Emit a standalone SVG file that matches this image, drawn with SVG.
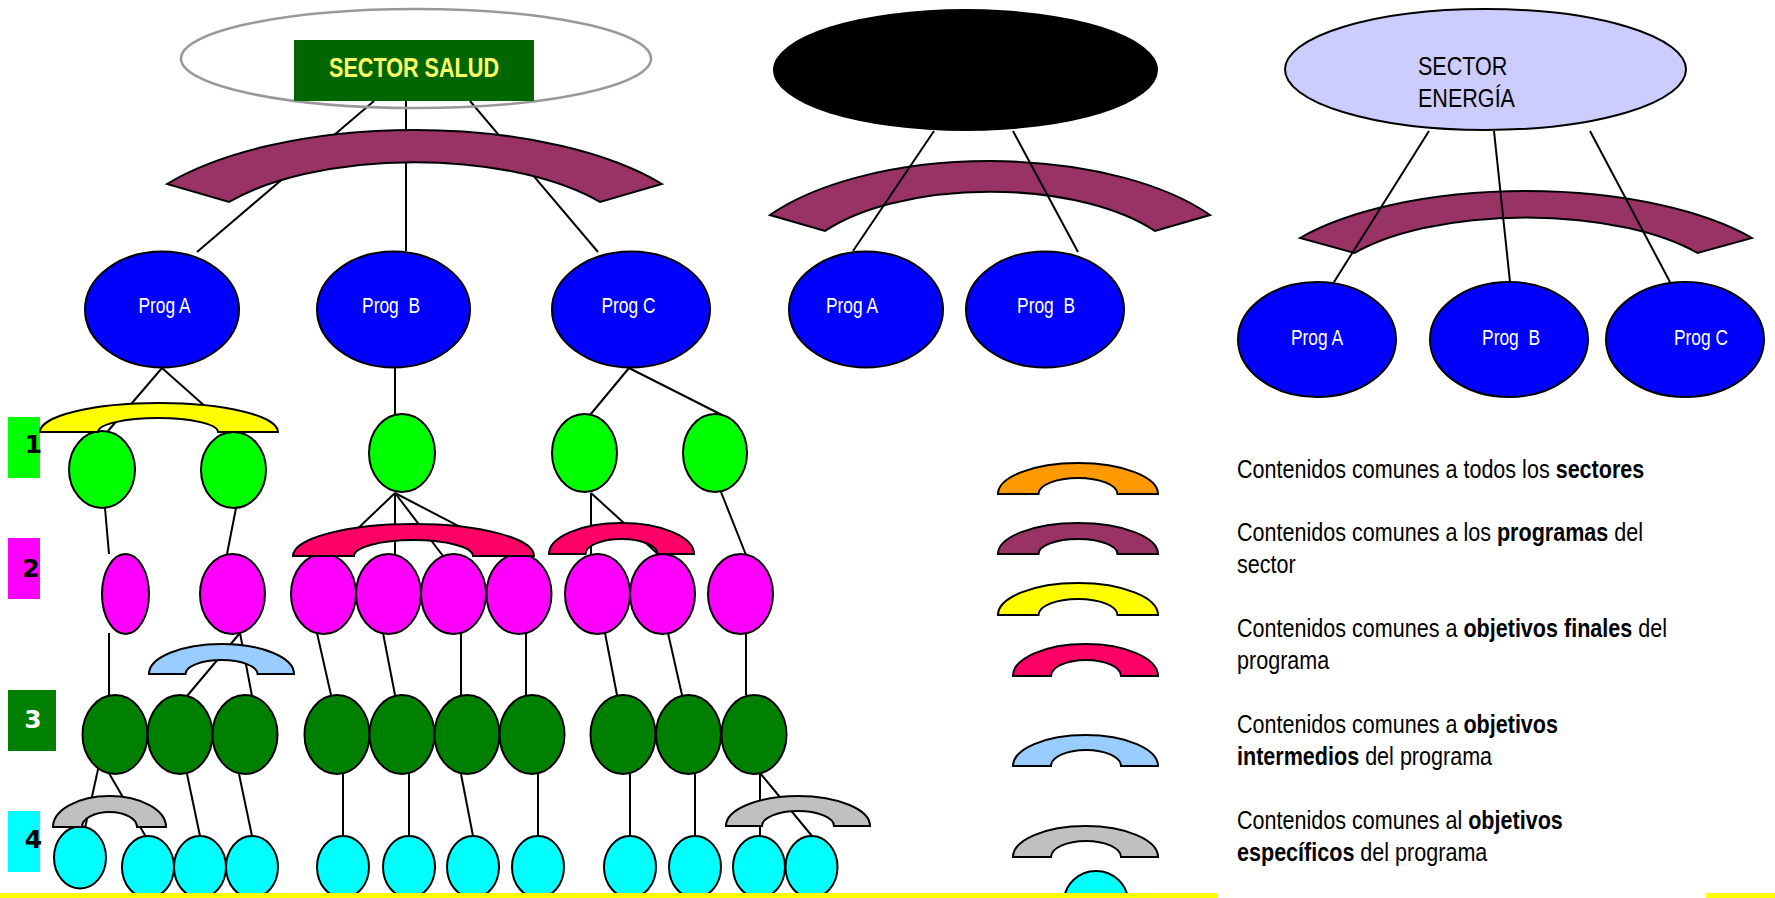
<svg xmlns="http://www.w3.org/2000/svg" width="1775" height="898" viewBox="0 0 1775 898">
<style>
  .ln{stroke:#000;stroke-width:2;fill:none}
  .nd{stroke:#000;stroke-width:2}
  .prog{fill:#0000FF}
  .g1{fill:#00FF00}
  .g2{fill:#FF00FF}
  .g3{fill:#008000}
  .g4{fill:#00FFFF}
  .arc{stroke:#000;stroke-width:2;stroke-linejoin:miter}
  .maroon{fill:#993366}
  .yellow{fill:#FFFF00}
  .red{fill:#FF0066}
  .blue{fill:#99CCFF}
  .gray{fill:#C0C0C0}
  .orange{fill:#FF9900}
  .txt{font-family:"Liberation Sans",Arial,sans-serif}
  .plabel{font-size:22px;fill:#fff;text-anchor:middle}
  .legend{font-size:26.3px;fill:#000}
  .digit{font-family:"DejaVu Sans",Verdana,sans-serif;font-weight:bold;font-size:25px;text-anchor:middle}
</style>
<rect width="1775" height="898" fill="#fff"/>

<!-- sector arcs that sit behind their connectors -->
<g id="arcs-back">
  <path id="arc-sector2" class="arc maroon" d="M770,215 A262,118 0 0 1 1210,215 L1155,231 A198,88 0 0 0 825,231 Z"/>
  <path id="arc-energia" class="arc maroon" d="M1300,238 A275,109 0 0 1 1752,238 L1697.5,253 A208,82 0 0 0 1354.5,253 Z"/>
</g>

<!-- connectors -->
<g id="connectors" class="ln">
  <!-- sector salud -->
  <line x1="374" y1="101" x2="197" y2="252"/>
  <line x1="406" y1="101" x2="406" y2="251"/>
  <line x1="470" y1="101" x2="598" y2="252"/>
  <!-- second sector -->
  <line x1="934" y1="131" x2="853" y2="251"/>
  <line x1="1013" y1="131" x2="1078" y2="252"/>
  <!-- sector energia -->
  <line x1="1429" y1="131" x2="1334" y2="282"/>
  <line x1="1494" y1="131" x2="1510" y2="282"/>
  <line x1="1590" y1="131" x2="1670" y2="282"/>
  <!-- programs to level 1 -->
  <line x1="162" y1="368" x2="108" y2="431"/>
  <line x1="162" y1="368" x2="234" y2="432"/>
  <line x1="395" y1="368" x2="395" y2="414"/>
  <line x1="629" y1="368" x2="590" y2="415"/>
  <line x1="629" y1="368" x2="722" y2="415"/>
  <!-- level 1 to level 2 -->
  <line x1="105" y1="508" x2="109" y2="554"/>
  <line x1="236" y1="508" x2="227" y2="554"/>
  <line x1="395" y1="493" x2="330" y2="555"/>
  <line x1="395" y1="493" x2="395" y2="555"/>
  <line x1="395" y1="493" x2="443" y2="556"/>
  <line x1="395" y1="493" x2="514" y2="555"/>
  <line x1="591" y1="493" x2="591" y2="555"/>
  <line x1="591" y1="493" x2="659" y2="555"/>
  <line x1="721" y1="492" x2="746" y2="555"/>
  <!-- level 2 to level 3 -->
  <line x1="109" y1="633" x2="109" y2="695"/>
  <line x1="240" y1="633" x2="187" y2="696"/>
  <line x1="240" y1="633" x2="252" y2="696"/>
  <line x1="317" y1="633" x2="331" y2="695"/>
  <line x1="383" y1="633" x2="395" y2="695"/>
  <line x1="461" y1="633" x2="461" y2="695"/>
  <line x1="526" y1="633" x2="526" y2="695"/>
  <line x1="605" y1="633" x2="617" y2="695"/>
  <line x1="668" y1="633" x2="682" y2="695"/>
  <line x1="746" y1="633" x2="746" y2="695"/>
  <!-- level 3 to level 4 -->
  <line x1="99" y1="765" x2="85" y2="828"/>
  <line x1="106" y1="768" x2="146" y2="837"/>
  <line x1="187" y1="774" x2="200" y2="836"/>
  <line x1="239" y1="774" x2="252" y2="836"/>
  <line x1="343" y1="774" x2="343" y2="836"/>
  <line x1="409" y1="774" x2="409" y2="836"/>
  <line x1="461" y1="774" x2="473" y2="836"/>
  <line x1="538" y1="774" x2="538" y2="836"/>
  <line x1="630" y1="774" x2="630" y2="836"/>
  <line x1="695" y1="774" x2="695" y2="836"/>
  <line x1="760" y1="773" x2="760" y2="837"/>
  <line x1="760" y1="773" x2="812" y2="836"/>
</g>

<!-- sector heads -->
<g id="sector-salud">
  <ellipse cx="416" cy="58.5" rx="235" ry="49.5" fill="none" stroke="#999" stroke-width="2.5"/>
  <rect x="294" y="40" width="240" height="61" fill="#006600"/>
  <text class="txt" transform="translate(414,77) scale(0.8,1)" font-size="27" font-weight="bold" fill="#FFFF66" text-anchor="middle">SECTOR SALUD</text>
</g>
<g id="sector-2">
  <ellipse cx="965.5" cy="70" rx="192.5" ry="61" fill="#000"/>
</g>
<g id="sector-energia">
  <ellipse class="nd" cx="1485.5" cy="69.5" rx="200.5" ry="60.5" fill="#CCCCFF"/>
  <text class="txt legend" transform="translate(1418,75) scale(0.82,1)">SECTOR</text>
  <text class="txt legend" transform="translate(1418,107) scale(0.82,1)">ENERGÍA</text>
</g>

<!-- programs -->
<g id="salud-prog-a"><ellipse class="nd prog" cx="162" cy="309.5" rx="77" ry="58"/><text class="txt plabel" transform="translate(164.5,313) scale(0.79,1)">Prog A</text></g>
<g id="salud-prog-b"><ellipse class="nd prog" cx="393.5" cy="309.5" rx="76.5" ry="58"/><text class="txt plabel" xml:space="preserve" transform="translate(391,313) scale(0.79,1)">Prog  B</text></g>
<g id="salud-prog-c"><ellipse class="nd prog" cx="631" cy="309.5" rx="79" ry="58"/><text class="txt plabel" transform="translate(628.5,313) scale(0.79,1)">Prog C</text></g>
<g id="s2-prog-a"><ellipse class="nd prog" cx="866" cy="309.5" rx="77" ry="58"/><text class="txt plabel" transform="translate(852,313) scale(0.79,1)">Prog A</text></g>
<g id="s2-prog-b"><ellipse class="nd prog" cx="1045" cy="309.5" rx="79" ry="58"/><text class="txt plabel" xml:space="preserve" transform="translate(1046,313) scale(0.79,1)">Prog  B</text></g>
<g id="energia-prog-a"><ellipse class="nd prog" cx="1317" cy="339.5" rx="79" ry="57.5"/><text class="txt plabel" transform="translate(1317,345) scale(0.79,1)">Prog A</text></g>
<g id="energia-prog-b"><ellipse class="nd prog" cx="1509" cy="339.5" rx="79" ry="57.5"/><text class="txt plabel" xml:space="preserve" transform="translate(1511,345) scale(0.79,1)">Prog  B</text></g>
<g id="energia-prog-c"><ellipse class="nd prog" cx="1685" cy="339.5" rx="79" ry="57.5"/><text class="txt plabel" transform="translate(1701,345) scale(0.79,1)">Prog C</text></g>

<!-- level 1 objectives -->
<g id="level1" class="nd g1">
  <ellipse id="o1-1" cx="102" cy="469.5" rx="33" ry="38.5"/>
  <ellipse id="o1-2" cx="233.5" cy="470" rx="32.5" ry="38"/>
  <ellipse id="o1-3" cx="402" cy="453" rx="33" ry="39"/>
  <ellipse id="o1-4" cx="584.5" cy="453" rx="32.5" ry="39"/>
  <ellipse id="o1-5" cx="715" cy="453" rx="32" ry="39"/>
</g>
<!-- level 2 objectives -->
<g id="level2" class="nd g2">
  <ellipse id="o2-1" cx="125.5" cy="594" rx="23.5" ry="40"/>
  <ellipse id="o2-2" cx="232.5" cy="594" rx="32.5" ry="40"/>
  <ellipse id="o2-3" cx="323.5" cy="594" rx="32.5" ry="40"/>
  <ellipse id="o2-4" cx="388.5" cy="594" rx="32.5" ry="40"/>
  <ellipse id="o2-5" cx="453.5" cy="594" rx="32.5" ry="40"/>
  <ellipse id="o2-6" cx="519" cy="594" rx="32.5" ry="40"/>
  <ellipse id="o2-7" cx="597.5" cy="594" rx="32.5" ry="40"/>
  <ellipse id="o2-8" cx="662.5" cy="594" rx="32.5" ry="40"/>
  <ellipse id="o2-9" cx="740.5" cy="594" rx="32.5" ry="40"/>
</g>
<!-- level 3 objectives -->
<g id="level3" class="nd g3">
  <ellipse id="o3-1" cx="115" cy="734.5" rx="32.5" ry="39.5"/>
  <ellipse id="o3-2" cx="180" cy="734.5" rx="32.5" ry="39.5"/>
  <ellipse id="o3-3" cx="245" cy="734.5" rx="32.5" ry="39.5"/>
  <ellipse id="o3-4" cx="337" cy="734.5" rx="32.5" ry="39.5"/>
  <ellipse id="o3-5" cx="402" cy="734.5" rx="32.5" ry="39.5"/>
  <ellipse id="o3-6" cx="467" cy="734.5" rx="32.5" ry="39.5"/>
  <ellipse id="o3-7" cx="532" cy="734.5" rx="32.5" ry="39.5"/>
  <ellipse id="o3-8" cx="623" cy="734.5" rx="32.5" ry="39.5"/>
  <ellipse id="o3-9" cx="688.5" cy="734.5" rx="32.5" ry="39.5"/>
  <ellipse id="o3-10" cx="754" cy="734.5" rx="32.5" ry="39.5"/>
</g>
<!-- level 4 objectives -->
<g id="level4" class="nd g4">
  <ellipse id="o4-1" cx="80" cy="857.5" rx="26" ry="31"/>
  <ellipse id="o4-2" cx="148" cy="867" rx="26" ry="31"/>
  <ellipse id="o4-3" cx="200" cy="867" rx="26" ry="31"/>
  <ellipse id="o4-4" cx="252" cy="867" rx="26" ry="31"/>
  <ellipse id="o4-5" cx="343" cy="867" rx="26" ry="31"/>
  <ellipse id="o4-6" cx="409" cy="867" rx="26" ry="31"/>
  <ellipse id="o4-7" cx="473" cy="867" rx="26" ry="31"/>
  <ellipse id="o4-8" cx="538" cy="867" rx="26" ry="31"/>
  <ellipse id="o4-9" cx="630" cy="867" rx="26" ry="31"/>
  <ellipse id="o4-10" cx="695" cy="867" rx="26" ry="31"/>
  <ellipse id="o4-11" cx="759" cy="867" rx="26" ry="31"/>
  <ellipse id="o4-12" cx="811.5" cy="867" rx="26" ry="31"/>
  <ellipse id="legend-o4" cx="1096" cy="902" rx="32" ry="31"/>
</g>

<!-- level tags -->
<g id="tag-1"><rect x="8" y="417" width="32" height="61" fill="#00FF00"/><text class="digit" x="33.5" y="453" fill="#000">1</text></g>
<g id="tag-2"><rect x="8" y="538" width="32" height="61" fill="#FF00FF"/><text class="digit" x="31" y="577" fill="#000">2</text></g>
<g id="tag-3"><rect x="8" y="690" width="48" height="61" fill="#008000"/><text class="digit" x="33" y="728" fill="#fff">3</text></g>
<g id="tag-4"><rect x="8" y="811" width="32" height="61" fill="#00FFFF"/><text class="digit" x="33.5" y="848" fill="#000">4</text></g>

<!-- shared-content arcs over the tree -->
<g id="arcs-front">
  <path id="arc-salud" class="arc maroon" d="M167,184 A301.5,126 0 0 1 662,184 L600,202 A227,94 0 0 0 229,202 Z"/>
  <path id="arc-final-a" class="arc yellow" d="M40,432 A119,29 0 0 1 278,432 L218,432 A60,14 0 0 0 98,432 Z"/>
  <path id="arc-final-b1" class="arc red" d="M293,556 A120.5,32 0 0 1 534,556 L473,556 A59.5,16 0 0 0 354,556 Z"/>
  <path id="arc-final-c" class="arc red" d="M549,554 A72.5,31 0 0 1 694,554 L657.5,554 A36,15 0 0 0 585.5,554 Z"/>
  <path id="arc-inter-a" class="arc blue" d="M149,674 A72.5,30 0 0 1 294,674 L257.5,674 A36,14 0 0 0 185.5,674 Z"/>
  <path id="arc-spec-a" class="arc gray" d="M53,827 A56.5,31 0 0 1 166,827 L137,827 A27.5,15 0 0 0 82,827 Z"/>
  <path id="arc-spec-c" class="arc gray" d="M726,826 A72,30 0 0 1 870,826 L834,826 A36,15 0 0 0 762,826 Z"/>
</g>

<!-- legend -->
<g id="legend">
  <path class="arc orange" d="M998,494 A80,31 0 0 1 1158,494 L1117.5,494 A39.5,16 0 0 0 1038.5,494 Z"/>
  <path class="arc maroon" d="M998,554 A80,31 0 0 1 1158,554 L1117.5,554 A39.5,15 0 0 0 1038.5,554 Z"/>
  <path class="arc yellow" d="M998,615 A80,32 0 0 1 1158,615 L1117.5,615 A39.5,16 0 0 0 1038.5,615 Z"/>
  <path class="arc red" d="M1013,676 A72.5,32 0 0 1 1158,676 L1121,676 A35,16 0 0 0 1051,676 Z"/>
  <path class="arc blue" d="M1013,766 A72.5,31 0 0 1 1158,766 L1121,766 A35,16 0 0 0 1051,766 Z"/>
  <path class="arc gray" d="M1013,857 A72.5,31 0 0 1 1158,857 L1121,857 A35,16 0 0 0 1051,857 Z"/>
  <text class="txt legend" transform="translate(1237,478) scale(0.82,1)">Contenidos comunes a todos los <tspan font-weight="bold">sectores</tspan></text>
  <text class="txt legend" transform="translate(1237,541) scale(0.82,1)">Contenidos comunes a los <tspan font-weight="bold">programas</tspan> del</text>
  <text class="txt legend" transform="translate(1237,573) scale(0.82,1)">sector</text>
  <text class="txt legend" transform="translate(1237,637) scale(0.82,1)">Contenidos comunes a <tspan font-weight="bold">objetivos finales</tspan> del</text>
  <text class="txt legend" transform="translate(1237,669) scale(0.82,1)">programa</text>
  <text class="txt legend" transform="translate(1237,733) scale(0.82,1)">Contenidos comunes a <tspan font-weight="bold">objetivos</tspan></text>
  <text class="txt legend" transform="translate(1237,765) scale(0.82,1)"><tspan font-weight="bold">intermedios</tspan> del programa</text>
  <text class="txt legend" transform="translate(1237,829) scale(0.82,1)">Contenidos comunes al <tspan font-weight="bold">objetivos</tspan></text>
  <text class="txt legend" transform="translate(1237,861) scale(0.82,1)"><tspan font-weight="bold">específicos</tspan> del programa</text>
</g>

<!-- bottom rule -->
<g id="bottom-rule" fill="#FFFF00">
  <rect x="0" y="893" width="1218" height="5"/>
  <rect x="1706" y="893" width="69" height="5"/>
</g>
</svg>
